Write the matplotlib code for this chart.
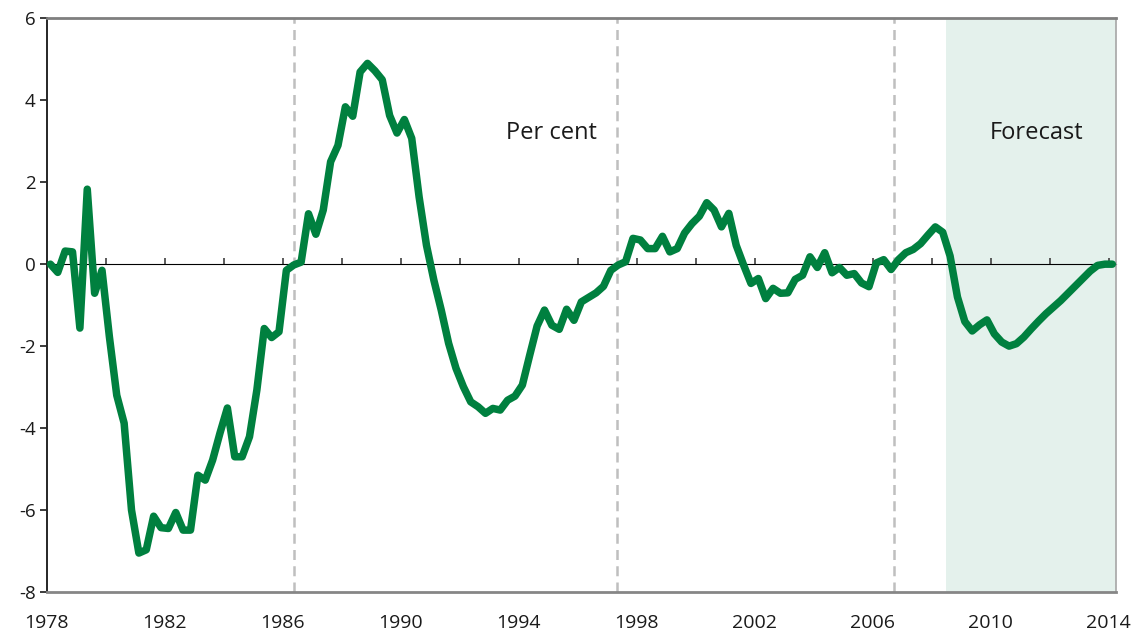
import numpy as np
import matplotlib
matplotlib.use("Agg")
import matplotlib.pyplot as plt

plt.rcParams['font.family'] = ['Open Sans', 'DejaVu Sans']

# Quarterly series, 1978Q1 .. 2014Q1 (per cent)
start_year = 1978
values = [
    0.0, -0.2, 0.32, 0.3, -1.56, 1.83, -0.71, -0.15,
    -1.77, -3.2, -3.88, -6.0, -7.05, -6.97, -6.15, -6.43,
    -6.45, -6.06, -6.49, -6.49, -5.15, -5.27, -4.78, -4.12,
    -3.51, -4.7, -4.7, -4.21, -3.07, -1.57, -1.79, -1.65,
    -0.15, -0.02, 0.05, 1.23, 0.73, 1.32, 2.5, 2.9,
    3.84, 3.61, 4.69, 4.9, 4.72, 4.5, 3.63, 3.2,
    3.53, 3.07, 1.64, 0.46, -0.39, -1.12, -1.93, -2.54,
    -2.99, -3.36, -3.48, -3.64, -3.52, -3.56, -3.32, -3.22,
    -2.95, -2.22, -1.51, -1.12, -1.49, -1.59, -1.1, -1.37,
    -0.92, -0.81, -0.7, -0.54, -0.15, -0.02, 0.06, 0.63,
    0.59, 0.38, 0.38, 0.68, 0.3, 0.38, 0.76, 0.99,
    1.17, 1.5, 1.32, 0.91, 1.24, 0.46, -0.02, -0.47,
    -0.35, -0.84, -0.59, -0.71, -0.7, -0.37, -0.27, 0.18,
    -0.08, 0.28, -0.21, -0.08, -0.27, -0.23, -0.46, -0.55,
    0.03, 0.11, -0.13, 0.11, 0.28, 0.36, 0.5, 0.71,
    0.91, 0.78, 0.2, -0.8, -1.4, -1.63, -1.48, -1.36,
    -1.7, -1.9, -2.0, -1.94, -1.78, -1.58, -1.39, -1.21,
    -1.05, -0.89, -0.71, -0.53, -0.35, -0.17, -0.03, 0.0,
    0.0,
]
divider_years = [1986.39, 1997.33, 2006.72]
forecast_start = 2008.5
x_tick_years = list(range(1978, 2015, 4))
zero_tick_years = list(range(1980, 2015, 2))
y_ticks = [-8, -6, -4, -2, 0, 2, 4, 6]

green = '#00803F'
shade = '#E4F1EC'

n = len(values)
x = start_year + (np.arange(n) + 0.5) / 4.0
x_end = start_year + n / 4.0

fig = plt.figure(figsize=(11.44, 6.39), dpi=100)
ax = fig.add_axes([46.7 / 1144, 1 - 592 / 639, (1116 - 46.7) / 1144, (592 - 18.3) / 639])

ax.axvspan(forecast_start, x_end, color=shade, lw=0, zorder=0)
for d in divider_years:
    ax.axvline(d, color='#BFBFBF', lw=1.8, ls=(0, (4, 2.5)), zorder=1)

ax.plot(x, values, color=green, lw=5.4, solid_joinstyle='round', solid_capstyle='round', zorder=3)

ax.set_xlim(start_year, x_end)
ax.set_ylim(-8, 6)
ax.set_yticks(y_ticks)
ax.set_yticklabels([str(v) for v in y_ticks])
ax.set_xticks(x_tick_years)
ax.set_xticklabels([str(v) for v in x_tick_years])

ax.tick_params(axis='x', length=0, pad=16, labelsize=14, colors='#1a1a1a')
ax.tick_params(axis='y', length=5, width=1.2, pad=3, labelsize=13.5, colors='#1a1a1a', direction='out')

ax.spines['left'].set_color('#262626')
ax.spines['left'].set_linewidth(1.4)
ax.spines['top'].set_color('#7F7F7F')
ax.spines['top'].set_linewidth(2)
ax.spines['bottom'].set_color('#868686')
ax.spines['bottom'].set_linewidth(2)
ax.spines['right'].set_color('#A6A6A6')
ax.spines['right'].set_linewidth(1.2)

# zero line with tick marks
sec = ax.secondary_xaxis(8 / 14)
sec.set_xticks(zero_tick_years)
sec.set_xticklabels([])
sec.tick_params(axis='x', length=4.5, width=1.2, direction='out', colors='#404040')
sec.spines['bottom'].set_color('#404040')
sec.spines['bottom'].set_linewidth(1.2)
sec.spines['bottom'].set_zorder(2)

ax.text(0.4716, 0.80, 'Per cent', transform=ax.transAxes, ha='center', va='center',
        fontsize=17, color='#1a1a1a')
ax.text(0.926, 0.80, 'Forecast', transform=ax.transAxes, ha='center', va='center',
        fontsize=17, color='#1a1a1a')

fig.savefig('out.png', dpi=100)
